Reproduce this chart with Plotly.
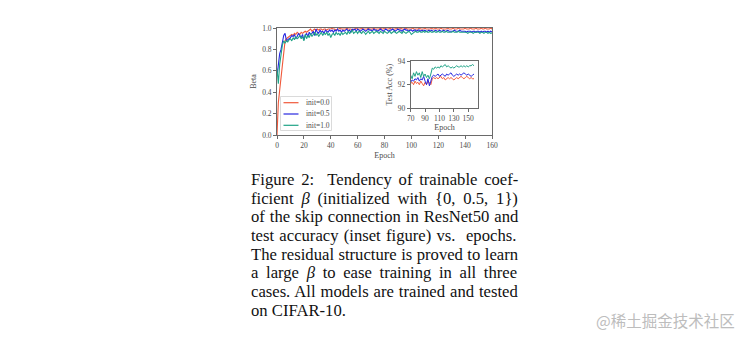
import plotly.graph_objects as go

W, H = 750, 340

# ---------------- data ----------------
epochs = list(range(0, 161))
series_names = ["init=0.0", "init=0.5", "init=1.0"]
series_colors = ["#f0583a", "#2828e0", "#1fa386"]

beta_init0 = [
    0.00, 0.30, 0.42, 0.55, 0.68, 0.80, 0.88, 0.90, 0.91, 0.92,
    0.93, 0.94, 0.93, 0.95, 0.94, 0.96, 0.95, 0.94, 0.96, 0.95,
    0.96, 0.97, 0.96, 0.97, 0.98, 0.99, 0.97, 0.98, 0.99, 0.98,
    0.99, 0.98, 0.99, 0.99, 0.98, 0.99, 0.99, 0.98, 0.99, 0.99,
    0.99, 1.00, 0.99, 0.99, 0.98, 0.99, 0.99, 1.00, 0.99, 0.99,
    0.99, 0.99, 1.00, 0.99, 0.99, 0.99, 0.98, 0.99, 0.99, 1.00,
    0.99, 0.99, 0.99, 1.00, 0.99, 0.99, 0.99, 0.99, 1.00, 0.99,
    0.99, 0.99, 1.00, 0.99, 0.99, 0.99, 0.99, 1.00, 0.99, 0.99,
    1.00, 0.99, 0.99, 0.99, 1.00, 0.99, 0.99, 0.99, 0.99, 1.00,
    0.99, 0.99, 1.00, 0.99, 0.99, 0.99, 1.00, 0.99, 0.99, 0.99,
    0.99, 1.00, 0.99, 0.99, 0.99, 0.99, 1.00, 0.99, 0.99, 0.99,
    1.00, 0.99, 0.99, 0.99, 0.99, 1.00, 0.99, 0.99, 1.00, 0.99,
    0.99, 0.99, 1.00, 0.99, 0.99, 0.99, 0.99, 1.00, 0.99, 0.99,
    0.99, 1.00, 0.99, 0.99, 0.99, 1.00, 0.99, 0.99, 0.99, 0.99,
    1.00, 0.99, 0.99, 0.99, 1.00, 0.99, 0.99, 0.99, 1.00, 0.99,
    0.99, 0.99, 1.00, 0.99, 0.99, 1.00, 0.99, 0.99, 0.99, 1.00,
    0.99,
]
beta_init05 = [
    0.55, 0.68, 0.76, 0.80, 0.86, 0.93, 0.95, 0.88, 0.89, 0.90,
    0.91, 0.93, 0.92, 0.94, 0.90, 0.92, 0.95, 0.93, 0.91, 0.94,
    0.89, 0.93, 0.95, 0.92, 0.96, 0.94, 0.95, 0.97, 0.93, 0.99,
    0.96, 0.95, 0.98, 0.96, 0.97, 0.95, 0.98, 0.97, 0.96, 0.98,
    0.97, 0.98, 0.96, 0.98, 0.97, 0.99, 0.97, 0.98, 0.96, 0.98,
    0.97, 0.98, 0.99, 0.97, 0.98, 0.96, 0.99, 0.98, 0.99, 0.97,
    0.99, 0.98, 0.97, 0.98, 0.99, 0.98, 0.97, 0.98, 0.99, 0.98,
    0.98, 0.97, 0.99, 0.98, 0.98, 0.97, 0.98, 0.99, 0.98, 0.97,
    0.98, 0.99, 0.98, 0.97, 0.98, 0.98, 0.99, 0.98, 0.97, 0.98,
    0.99, 0.98, 0.98, 0.97, 0.98, 0.99, 0.98, 0.98, 0.97, 0.98,
    0.98, 0.97, 0.98, 0.98, 0.97, 0.98, 0.98, 0.97, 0.98, 0.97,
    0.98, 0.97, 0.97, 0.98, 0.97, 0.98, 0.97, 0.97, 0.98, 0.97,
    0.97, 0.98, 0.97, 0.97, 0.98, 0.97, 0.97, 0.98, 0.97, 0.97,
    0.97, 0.97, 0.98, 0.97, 0.97, 0.97, 0.98, 0.97, 0.97, 0.97,
    0.97, 0.96, 0.97, 0.97, 0.97, 0.96, 0.97, 0.97, 0.96, 0.97,
    0.97, 0.96, 0.97, 0.96, 0.97, 0.97, 0.96, 0.97, 0.96, 0.97,
    0.965,
]
beta_init10 = [
    0.62, 0.48, 0.66, 0.78, 0.84, 0.88, 0.86, 0.88, 0.87, 0.89,
    0.90, 0.88, 0.91, 0.89, 0.92, 0.90, 0.91, 0.93, 0.90, 0.92,
    0.88, 0.94, 0.90, 0.93, 0.91, 0.95, 0.92, 0.94, 0.96, 0.93,
    0.95, 0.92, 0.94, 0.96, 0.93, 0.95, 0.94, 0.96, 0.93, 0.95,
    0.91, 0.94, 0.95, 0.93, 0.96, 0.94, 0.95, 0.93, 0.96, 0.94,
    0.95, 0.96, 0.94, 0.97, 0.95, 0.96, 0.98, 0.95, 0.96, 0.97,
    0.95, 0.97, 0.96, 0.95, 0.97, 0.96, 0.94, 0.96, 0.97, 0.95,
    0.96, 0.97, 0.95, 0.96, 0.97, 0.96, 0.95, 0.97, 0.96, 0.95,
    0.97, 0.96, 0.95, 0.96, 0.97, 0.95, 0.96, 0.97, 0.96, 0.95,
    0.96, 0.97, 0.96, 0.95, 0.97, 0.96, 0.95, 0.96, 0.97, 0.96,
    0.94, 0.95, 0.96, 0.97, 0.96, 0.96, 0.97, 0.96, 0.96, 0.97,
    0.96, 0.97, 0.96, 0.96, 0.97, 0.96, 0.96, 0.97, 0.96, 0.96,
    0.97, 0.96, 0.96, 0.97, 0.96, 0.96, 0.97, 0.96, 0.96, 0.96,
    0.96, 0.97, 0.96, 0.96, 0.96, 0.97, 0.96, 0.96, 0.96, 0.96,
    0.96, 0.96, 0.95, 0.96, 0.96, 0.96, 0.95, 0.96, 0.96, 0.96,
    0.96, 0.95, 0.96, 0.96, 0.95, 0.96, 0.96, 0.95, 0.96, 0.95,
    0.955,
]

inset_epochs = list(range(70, 160, 2))
acc_init0 = [
    92.1, 92.2, 92.0, 92.3, 92.1, 92.2, 92.0, 92.3, 92.1, 91.9,
    92.2, 92.0, 92.3, 92.1, 92.0, 92.5, 92.6, 92.5, 92.6, 92.5,
    92.6, 92.7, 92.5, 92.6, 92.4, 92.5, 92.6, 92.5, 92.6, 92.5,
    92.4, 92.5, 92.6, 92.5, 92.6, 92.7, 92.6, 92.5, 92.6, 92.7,
    92.6, 92.5, 92.6, 92.5, 92.5,
]
acc_init05 = [
    92.2, 92.4, 92.3, 92.5, 92.4, 92.6, 92.3, 92.5, 92.4, 92.7,
    92.3, 92.0, 92.5, 91.9, 92.3, 92.7, 92.8, 92.7, 92.8, 92.9,
    92.7, 92.8, 92.9, 92.8, 92.7, 92.9, 92.8, 92.9, 93.0, 92.8,
    92.7, 92.8, 92.9, 92.8, 92.9, 92.8, 92.9, 93.0, 92.9, 92.8,
    92.9, 92.8, 92.7, 92.8, 92.9,
]
acc_init10 = [
    92.8, 92.5, 93.0, 92.7, 93.1, 92.8, 93.0, 92.6, 93.1, 92.7,
    92.9, 92.6, 92.8, 92.5, 92.9, 93.4, 93.3, 93.5, 93.4, 93.5,
    93.4, 93.6, 93.5, 93.6, 93.7, 93.5, 93.6, 93.5, 93.4, 93.5,
    93.4, 93.5, 93.6, 93.5, 93.5, 93.6, 93.5, 93.6, 93.5, 93.6,
    93.5, 93.6, 93.6, 93.7, 93.6,
]

main_xticks = [0, 20, 40, 60, 80, 100, 120, 140, 160]
main_yticks = [0.0, 0.2, 0.4, 0.6, 0.8, 1.0]
inset_xticks = [70, 90, 110, 130, 150]
inset_yticks = [90, 92, 94]

caption_lines = [
    "Figure 2:\u00a0 Tendency of trainable coef-",
    "ficient <i>β</i> (initialized with {0, 0.5, 1})",
    "of the skip connection in ResNet50 and",
    "test accuracy (inset figure) vs.\u00a0 epochs.",
    "The residual structure is proved to learn",
    "a large <i>β</i> to ease training in all three",
    "cases. All models are trained and tested",
    "on CIFAR-10.",
]
# extra word spacing (px) per caption line to imitate the justified paragraph
caption_word_spacing = [2.6, 3.7, 0.8, 1.1, 0.3, 3.5, 0.8, 0.0]
watermark = "@稀土掘金技术社区"

# ---------------- figure ----------------
SERIF = "Liberation Serif, Times New Roman, serif"
AX = "#6a6a6a"
TXT = "#4a4a4a"

fig = go.Figure()
beta_series = [beta_init0, beta_init05, beta_init10]
acc_series = [acc_init0, acc_init05, acc_init10]
for name, col, ys in zip(series_names, series_colors, beta_series):
    fig.add_trace(go.Scatter(x=epochs, y=ys, mode="lines", name=name,
                             line=dict(color=col, width=1.1),
                             xaxis="x", yaxis="y", showlegend=False))
for name, col, ys in zip(series_names, series_colors, acc_series):
    fig.add_trace(go.Scatter(x=inset_epochs, y=ys, mode="lines", name=name,
                             line=dict(color=col, width=1.0),
                             xaxis="x2", yaxis="y2", showlegend=False))

def px_x(p):
    return p / W

def px_y(p):
    return 1 - p / H

axis_common = dict(showline=True, mirror=True, linecolor=AX, linewidth=0.8,
                   ticks="outside", ticklen=3, tickwidth=0.8, tickcolor=AX,
                   showgrid=False, zeroline=False,
                   tickfont=dict(family=SERIF, size=7.5, color=TXT),
                   automargin=False)

fig.update_layout(
    width=W, height=H, margin=dict(l=0, r=0, t=0, b=0),
    paper_bgcolor="white", plot_bgcolor="white",
    xaxis=dict(domain=[px_x(277), px_x(492)], range=[0, 160],
               tickvals=main_xticks, anchor="y",
               title=dict(text="Epoch", standoff=3,
                          font=dict(family=SERIF, size=8, color=TXT)),
               **axis_common),
    yaxis=dict(domain=[px_y(135), px_y(28)], range=[0, 1],
               tickvals=main_yticks, tickformat=".1f", anchor="x",
               title=dict(text="Beta", standoff=4,
                          font=dict(family=SERIF, size=8, color=TXT)),
               **axis_common),
    xaxis2=dict(domain=[px_x(410.7), px_x(478.3)], range=[70, 164],
                tickvals=inset_xticks, anchor="y2",
                title=dict(text="Epoch", standoff=2,
                           font=dict(family=SERIF, size=8, color=TXT)),
                **axis_common),
    yaxis2=dict(domain=[px_y(108.3), px_y(61)], range=[90, 94],
                tickvals=inset_yticks, anchor="x2",
                title=dict(text="Test Acc (%)", standoff=3,
                           font=dict(family=SERIF, size=8, color=TXT)),
                **axis_common),
)

# legend (drawn manually to match the compact matplotlib legend)
shapes = [dict(type="rect", xref="paper", yref="paper",
               x0=px_x(280.5), x1=px_x(331.5), y0=px_y(130.5), y1=px_y(96.5),
               line=dict(color="#d0d0d0", width=0.8), fillcolor="rgba(255,255,255,0.85)",
               layer="above")]
annotations = []
for i, (name, col) in enumerate(zip(series_names, series_colors)):
    yc = 102.7 + i * 11.3
    shapes.append(dict(type="line", xref="paper", yref="paper",
                       x0=px_x(283.5), x1=px_x(298.5), y0=px_y(yc), y1=px_y(yc),
                       line=dict(color=col, width=1.2), layer="above"))
    annotations.append(dict(text=name, xref="paper", yref="paper",
                            x=px_x(303.5), y=px_y(yc), xanchor="left", yanchor="middle",
                            showarrow=False,
                            font=dict(family=SERIF, size=7.5, color=TXT)))

# caption
for i, (line, ws) in enumerate(zip(caption_lines, caption_word_spacing)):
    baseline = 185 + i * 18.67
    annotations.append(dict(text=f'<span style="word-spacing:{ws}px">{line}</span>',
                            xref="paper", yref="paper",
                            x=px_x(249), y=px_y(baseline - 5.5),
                            xanchor="left", yanchor="middle", showarrow=False,
                            font=dict(family=SERIF, size=16.65, color="#111111")))

annotations.append(dict(text=watermark, xref="paper", yref="paper",
                        x=px_x(737), y=px_y(319.5), xanchor="right", yanchor="middle",
                        showarrow=False,
                        font=dict(family="Noto Sans CJK SC", size=15.5, color="#bdbdbd")))

fig.update_layout(shapes=shapes, annotations=annotations)
fig.write_html("out.html")
